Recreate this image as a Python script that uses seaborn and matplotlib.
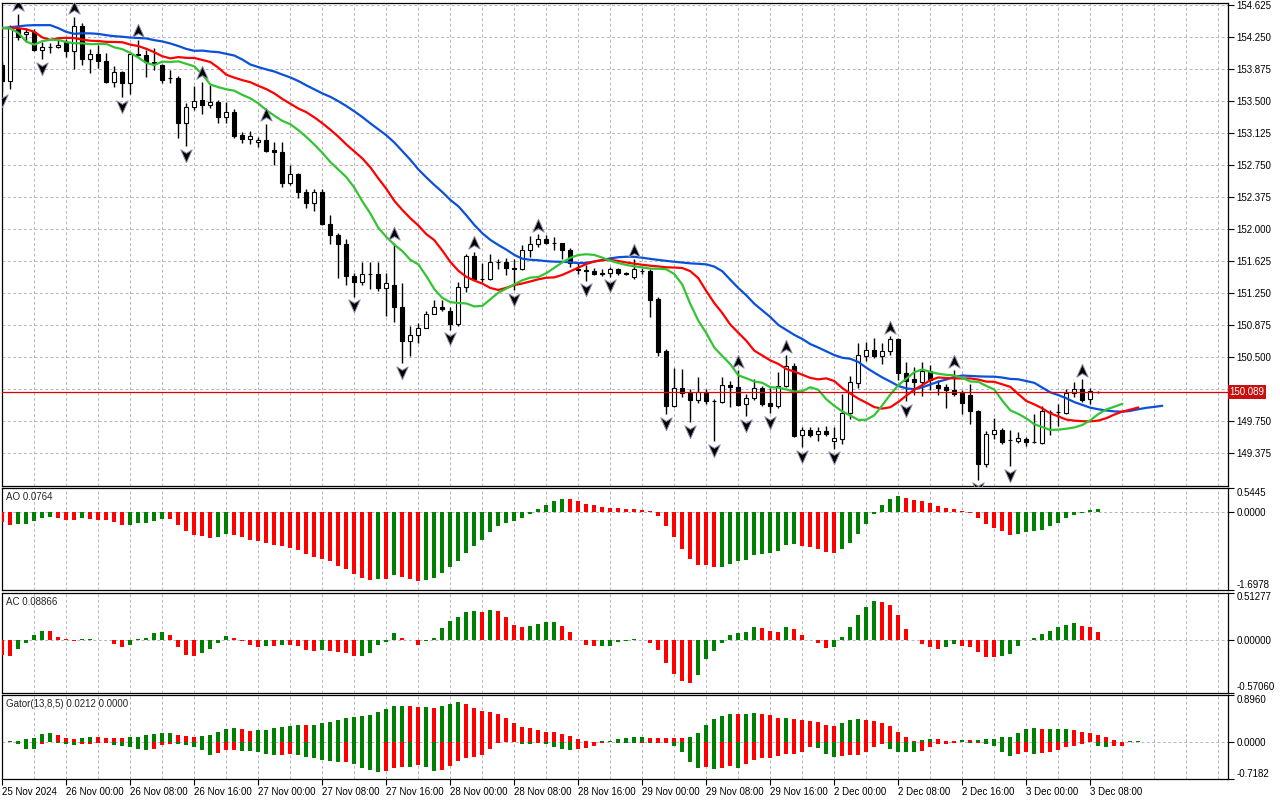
import matplotlib
matplotlib.use("Agg")
import matplotlib.pyplot as plt
from matplotlib.path import Path
import numpy as np
import pandas as pd
import seaborn as sns

# H1 bars, 25 Nov 2024 16:00 .. 3 Dec 2024 09:00
opens = [
    153.922, 153.738, 154.359, 154.282, 154.312, 154.102, 154.130, 154.130, 154.195, 154.090,
    154.379, 153.996, 154.051, 153.973, 153.727, 153.840, 153.708, 154.051, 154.039, 153.961,
    153.922, 153.766, 153.766, 153.239, 153.427, 153.512, 153.450, 153.489, 153.316, 153.368,
    153.102, 153.052, 153.016, 153.043, 152.926, 152.899, 152.543, 152.645, 152.437, 152.302,
    152.437, 152.059, 151.934, 151.821, 151.453, 151.383, 151.473, 151.473, 151.312, 151.344,
    151.090, 150.691, 150.758, 150.848, 151.012, 151.083, 151.043, 150.895, 151.324, 151.684,
    151.411, 151.420, 151.617, 151.619, 151.540, 151.538, 151.754, 151.825, 151.880, 151.840,
    151.836, 151.754, 151.535, 151.526, 151.512, 151.481, 151.481, 151.528, 151.481, 151.442,
    151.512, 151.512, 151.184, 150.574, 149.934, 150.145, 150.082, 149.996, 150.094, 149.988,
    149.977, 150.180, 150.152, 149.958, 150.028, 150.145, 149.965, 149.934, 150.169, 150.399,
    149.586, 149.645, 149.606, 149.637, 149.520, 149.548, 149.848, 150.199, 150.520, 150.591,
    150.520, 150.571, 150.720, 150.316, 150.246, 150.216, 150.340, 150.172, 150.152, 150.122,
    150.082, 150.055, 149.868, 149.255, 149.598, 149.645, 149.528, 149.520, 149.548, 149.508,
    149.496, 149.856, 149.856, 149.848, 150.087, 150.133, 150.016, 150.094,
]
highs = [
    153.957, 154.391, 154.520, 154.352, 154.344, 154.184, 154.177, 154.223, 154.227, 154.488,
    154.411, 154.110, 154.157, 154.059, 153.911, 153.852, 154.063, 154.215, 154.098, 154.118,
    153.934, 153.864, 153.793, 153.480, 153.676, 153.727, 153.688, 153.512, 153.492, 153.403,
    153.137, 153.145, 153.082, 153.231, 153.020, 153.023, 152.750, 152.660, 152.466, 152.466,
    152.466, 152.164, 151.957, 151.880, 151.488, 151.614, 151.614, 151.614, 151.481, 151.840,
    151.371, 150.864, 150.902, 151.043, 151.176, 151.176, 151.090, 151.383, 151.707, 151.734,
    151.605, 151.707, 151.652, 151.657, 151.645, 151.813, 151.918, 151.938, 151.934, 151.903,
    151.840, 151.774, 151.605, 151.578, 151.540, 151.528, 151.559, 151.547, 151.500, 151.645,
    151.540, 151.528, 151.200, 150.602, 150.380, 150.368, 150.133, 150.270, 150.133, 150.012,
    150.270, 150.220, 150.350, 150.075, 150.251, 150.161, 150.145, 150.328, 150.524, 150.434,
    149.684, 149.684, 149.684, 149.692, 149.684, 150.067, 150.278, 150.668, 150.680, 150.731,
    150.668, 150.746, 150.731, 150.445, 150.387, 150.442, 150.407, 150.231, 150.192, 150.348,
    150.114, 150.192, 149.879, 149.637, 149.794, 149.676, 149.645, 149.625, 149.567, 149.840,
    149.926, 149.887, 149.950, 150.133, 150.210, 150.245, 150.145, 150.106,
]
lows = [
    153.606, 153.641, 154.215, 154.195, 154.086, 153.989, 154.059, 154.125, 154.020, 153.872,
    153.922, 153.825, 153.884, 153.715, 153.661, 153.544, 153.582, 154.022, 153.785, 153.864,
    153.708, 153.708, 153.063, 152.973, 153.395, 153.348, 153.415, 153.246, 153.246, 153.070,
    153.012, 152.996, 152.965, 152.906, 152.750, 152.496, 152.516, 152.360, 152.243, 152.215,
    152.047, 151.825, 151.423, 151.344, 151.207, 151.344, 151.294, 151.277, 150.981, 150.914,
    150.434, 150.512, 150.668, 150.848, 151.012, 151.043, 150.825, 150.864, 151.266, 151.403,
    151.383, 151.403, 151.528, 151.461, 151.286, 151.520, 151.676, 151.786, 151.825, 151.754,
    151.645, 151.559, 151.473, 151.394, 151.458, 151.450, 151.442, 151.458, 151.461, 151.418,
    151.473, 150.973, 150.512, 149.832, 149.918, 150.035, 149.742, 149.965, 149.949, 149.520,
    149.965, 149.918, 149.926, 149.809, 149.996, 149.926, 149.848, 149.911, 150.152, 149.567,
    149.449, 149.567, 149.520, 149.575, 149.430, 149.489, 149.782, 150.145, 150.457, 150.497,
    150.426, 150.524, 150.239, 149.988, 150.055, 150.043, 150.114, 150.055, 149.911, 150.043,
    149.832, 149.715, 149.067, 149.215, 149.548, 149.481, 149.223, 149.496, 149.457, 149.496,
    149.489, 149.590, 149.692, 149.841, 150.035, 149.977, 149.949, 150.082,
]
closes = [
    153.735, 154.371, 154.250, 154.309, 154.098, 154.130, 154.133, 154.157, 154.090, 154.379,
    153.996, 154.051, 153.973, 153.727, 153.840, 153.708, 154.051, 154.036, 153.961, 153.930,
    153.746, 153.764, 153.239, 153.427, 153.500, 153.454, 153.489, 153.316, 153.368, 153.090,
    153.052, 153.087, 153.043, 152.918, 152.899, 152.543, 152.645, 152.437, 152.302, 152.437,
    152.059, 151.934, 151.821, 151.453, 151.383, 151.473, 151.473, 151.312, 151.364, 151.090,
    150.691, 150.758, 150.848, 151.012, 151.083, 151.066, 150.895, 151.324, 151.684, 151.411,
    151.420, 151.617, 151.619, 151.540, 151.538, 151.754, 151.825, 151.880, 151.840, 151.842,
    151.754, 151.605, 151.526, 151.512, 151.473, 151.479, 151.528, 151.481, 151.479, 151.528,
    151.510, 151.176, 150.563, 149.934, 150.145, 150.082, 149.996, 150.094, 149.988, 149.986,
    150.180, 150.152, 149.938, 150.028, 150.145, 149.958, 149.934, 150.169, 150.399, 149.575,
    149.645, 149.586, 149.637, 149.606, 149.555, 149.848, 150.207, 150.524, 150.591, 150.520,
    150.571, 150.720, 150.316, 150.223, 150.216, 150.340, 150.231, 150.145, 150.122, 150.075,
    149.965, 149.868, 149.255, 149.598, 149.645, 149.508, 149.534, 149.559, 149.508, 149.510,
    149.868, 149.858, 149.858, 150.082, 150.133, 150.004, 150.106, 150.089,
]

# Awesome Oscillator
ao = [
    -0.211, -0.284, -0.263, -0.258, -0.197, -0.131, -0.109, -0.131, -0.168, -0.175,
    -0.131, -0.153, -0.160, -0.168, -0.211, -0.284, -0.277, -0.241, -0.233, -0.190,
    -0.146, -0.150, -0.277, -0.408, -0.496, -0.518, -0.562, -0.540, -0.474, -0.496,
    -0.540, -0.605, -0.627, -0.671, -0.715, -0.737, -0.780, -0.824, -0.912, -0.977,
    -1.021, -1.065, -1.174, -1.240, -1.349, -1.429, -1.480, -1.459, -1.462, -1.371,
    -1.415, -1.459, -1.502, -1.480, -1.437, -1.327, -1.196, -1.065, -0.890, -0.744,
    -0.598, -0.430, -0.306, -0.233, -0.190, -0.131, -0.029, 0.066, 0.153, 0.241,
    0.284, 0.282, 0.241, 0.175, 0.153, 0.109, 0.095, 0.088, 0.084, 0.066,
    0.062, 0.022, -0.080, -0.299, -0.540, -0.795, -1.021, -1.145, -1.160, -1.196,
    -1.189, -1.130, -1.072, -1.043, -0.926, -0.912, -0.897, -0.846, -0.722, -0.700,
    -0.737, -0.766, -0.802, -0.868, -0.890, -0.802, -0.671, -0.474, -0.255, -0.029,
    0.153, 0.284, 0.350, 0.306, 0.277, 0.241, 0.204, 0.131, 0.088, 0.080,
    0.022, -0.004, -0.124, -0.255, -0.343, -0.408, -0.496, -0.474, -0.430, -0.401,
    -0.387, -0.299, -0.233, -0.124, -0.058, -0.015, 0.044, 0.0764,
]

# Accelerator Oscillator
ac = [
    -0.160, -0.170, -0.094, -0.036, 0.047, 0.100, 0.098, 0.036, 0.004, -0.011,
    0.011, 0.012, -0.004, -0.005, -0.043, -0.080, -0.058, 0.004, 0.025, 0.069,
    0.083, 0.047, -0.080, -0.166, -0.180, -0.144, -0.100, -0.030, 0.045, 0.022,
    -0.014, -0.058, -0.080, -0.069, -0.070, -0.054, -0.058, -0.065, -0.112, -0.123,
    -0.112, -0.116, -0.137, -0.144, -0.177, -0.176, -0.140, -0.060, -0.022, 0.069,
    0.025, -0.007, -0.058, -0.014, 0.025, 0.123, 0.202, 0.242, 0.300, 0.307,
    0.300, 0.318, 0.307, 0.242, 0.166, 0.144, 0.146, 0.173, 0.190, 0.192,
    0.155, 0.090, -0.004, -0.058, -0.072, -0.070, -0.065, -0.025, -0.011, 0.004,
    -0.002, -0.036, -0.112, -0.256, -0.375, -0.448, -0.473, -0.383, -0.209, -0.123,
    -0.036, 0.047, 0.079, 0.081, 0.144, 0.123, 0.101, 0.090, 0.134, 0.112,
    0.047, -0.001, -0.029, -0.090, -0.079, 0.036, 0.144, 0.274, 0.361, 0.426,
    0.415, 0.372, 0.264, 0.112, -0.001, -0.047, -0.083, -0.101, -0.079, -0.047,
    -0.069, -0.079, -0.134, -0.188, -0.191, -0.170, -0.155, -0.069, 0.001, 0.025,
    0.058, 0.101, 0.134, 0.166, 0.177, 0.155, 0.134, 0.08866,
]

# Alligator values on the first shifted bars (before the smoothing runs on this data)
jaw_start = [154.352, 154.362, 154.373, 154.383, 154.387, 154.387, 154.387, 154.352]
teeth_start = [154.352, 154.352, 154.352, 154.338, 154.309]
lips_start = [154.356, 154.348, 154.297]

fractal_up = [2, 9, 17, 25, 33, 49, 59, 67, 79, 92, 98, 111, 119, 135]
fractal_down = [0, 5, 15, 23, 44, 50, 56, 64, 73, 76, 83, 86, 89, 93, 96, 100, 104, 113, 122, 126]

time_labels = [
    "25 Nov 2024", "26 Nov 00:00", "26 Nov 08:00", "26 Nov 16:00", "27 Nov 00:00",
    "27 Nov 08:00", "27 Nov 16:00", "28 Nov 00:00", "28 Nov 08:00", "28 Nov 16:00",
    "29 Nov 00:00", "29 Nov 08:00", "29 Nov 16:00", "2 Dec 00:00", "2 Dec 08:00",
    "2 Dec 16:00", "3 Dec 00:00", "3 Dec 08:00",
]
price_ticks = [149.375, 149.750, 150.125, 150.500, 150.875, 151.250, 151.625, 152.000,
               152.375, 152.750, 153.125, 153.500, 153.875, 154.250, 154.625]
last_price = 150.089
ao_range = (-1.6978, 0.5445)
ac_range = (-0.5706, 0.51277)
gator_range = (-0.7182, 0.8960)


def smma(seed, values, period):
    out = []
    s = seed
    for v in values:
        s = (s * (period - 1) + v) / period
        out.append(s)
    return out


n = len(closes)
idx = np.arange(n)
median = [(h + l) / 2 for h, l in zip(highs, lows)]

jaw = np.array(jaw_start + smma(jaw_start[-1], median, 13))
teeth = np.array(teeth_start + smma(teeth_start[-1], median, 8))
lips = np.array(lips_start + smma(lips_start[-1], median, 5))

n_up = min(len(jaw), len(teeth))
n_lo = min(len(teeth), len(lips))
gator_up = np.abs(jaw[:n_up] - teeth[:n_up])
gator_lo = -np.abs(teeth[:n_lo] - lips[:n_lo])

GREEN = "#008000"
RED = "#ff0000"


def rise_colors(vals, use_abs=False):
    vals = np.abs(vals) if use_abs else np.asarray(vals)
    cols = [RED]
    for a, b in zip(vals[:-1], vals[1:]):
        cols.append(GREEN if b > a else RED)
    return cols


sns.set_style("white")
plt.rcParams["font.family"] = ["Liberation Sans", "DejaVu Sans"]
plt.rcParams["axes.unicode_minus"] = False

fig = plt.figure(figsize=(12.8, 8), dpi=100)


def panel(top, bottom):
    return fig.add_axes([2 / 1280, 1 - bottom / 800, 1226 / 1280, (bottom - top) / 800])


ax = panel(2.5, 485.5)
ax_ao = panel(487.5, 590)
ax_ac = panel(592.5, 692.5)
ax_g = panel(695, 779)
axes = [ax, ax_ao, ax_ac, ax_g]

GRID = "#bcb2bc"
xmin, xmax = -0.0375, 153.2125
grid_x = np.arange(0, 153, 4)
for a in axes:
    a.set_xlim(xmin, xmax)
    a.vlines(grid_x, 0, 1, transform=a.get_xaxis_transform(), colors=GRID,
             linestyles=(0, (3, 2.5)), linewidth=0.7, zorder=0)
    for s in a.spines.values():
        s.set_color("black")
        s.set_linewidth(0.9)
    a.yaxis.tick_right()
    a.tick_params(axis="y", direction="out", length=4, width=0.8, labelsize=7, pad=2,
                  colors="black")
    a.set_xticks([])

# --- price panel ---
ax.set_ylim(149.0, 154.652)
for p in price_ticks:
    ax.axhline(p, color=GRID, linestyle=(0, (3, 2.5)), linewidth=0.7, zorder=0)
ax.set_yticks(price_ticks)
tick_text = ax.set_yticklabels([f"{p:.3f}" for p in price_ticks])
# the 150.125 label sits under the current-price box, as in the terminal
for p, t in zip(price_ticks, tick_text):
    if abs(p - last_price) < 0.1:
        t.set_visible(False)

ax.vlines(idx, lows, highs, colors="black", linewidth=1.0, zorder=3)
body_low = np.minimum(opens, closes)
body_h = np.abs(np.array(closes) - np.array(opens))
face = ["white" if c > o else "black" for o, c in zip(opens, closes)]
ax.bar(idx, body_h, bottom=body_low, width=0.5, color=face, edgecolor="black",
       linewidth=0.8, zorder=4)

lines = pd.DataFrame({"x": np.arange(len(jaw)), "y": jaw})
sns.lineplot(data=lines, x="x", y="y", ax=ax, color="#0a50d8", linewidth=1.6, zorder=5)
lines = pd.DataFrame({"x": np.arange(len(teeth)), "y": teeth})
sns.lineplot(data=lines, x="x", y="y", ax=ax, color="#ff0000", linewidth=1.6, zorder=5)
lines = pd.DataFrame({"x": np.arange(len(lips)), "y": lips})
sns.lineplot(data=lines, x="x", y="y", ax=ax, color="#33c433", linewidth=1.6, zorder=5)

up_arrow = Path([(0, 1), (0.8, -0.8), (0, -0.3), (-0.8, -0.8), (0, 1)],
                [Path.MOVETO, Path.LINETO, Path.LINETO, Path.LINETO, Path.CLOSEPOLY])
down_arrow = Path([(0, -1), (0.8, 0.8), (0, 0.3), (-0.8, 0.8), (0, -1)],
                  [Path.MOVETO, Path.LINETO, Path.LINETO, Path.LINETO, Path.CLOSEPOLY])
ax.scatter(fractal_up, [highs[i] + 0.1 for i in fractal_up], marker=up_arrow, s=105,
           color="black", edgecolor="#8a8aa8", linewidth=0.7, zorder=6)
ax.scatter(fractal_down, [lows[i] - 0.1 for i in fractal_down], marker=down_arrow, s=105,
           color="black", edgecolor="#8a8aa8", linewidth=0.7, zorder=6)

ax.axhline(last_price, color="#e00000", linewidth=0.9, zorder=5)
ax.text(1.0 + 1.5 / 1226, last_price, f"{last_price:.3f}", transform=ax.get_yaxis_transform(),
        ha="left", va="center", fontsize=7, color="white", zorder=10, clip_on=False,
        bbox=dict(boxstyle="square,pad=0.2", facecolor="#c81010", edgecolor="none"))
ax.set_xlabel("")
ax.set_ylabel("")


# --- oscillator panels ---
def osc_axis(a, lo, hi, labels, title, ypos):
    a.set_ylim(lo, hi)
    a.axhline(0, color=GRID, linestyle=(0, (3, 2.5)), linewidth=0.7, zorder=0)
    a.set_yticks([lo, 0, hi])
    tl = a.set_yticklabels(labels)
    tl[0].set_va("bottom")
    tl[2].set_va("top")
    a.text(4 / 1226, ypos, title, transform=a.transAxes, ha="left", va="center", fontsize=7)


osc_axis(ax_ao, ao_range[0], ao_range[1], ["-1.6978", "0.0000", "0.5445"], "AO 0.0764", 0.91)
ax_ao.bar(idx, ao, width=0.5, color=rise_colors(ao), linewidth=0, zorder=3)

osc_axis(ax_ac, ac_range[0], ac_range[1], ["-0.57060", "0.00000", "0.51277"], "AC 0.08866", 0.905)
ax_ac.bar(idx, ac, width=0.5, color=rise_colors(ac), linewidth=0, zorder=3)

osc_axis(ax_g, gator_range[0], gator_range[1], ["-0.7182", "0.0000", "0.8960"],
         "Gator(13,8,5) 0.0212 0.0000", 0.89)
ax_g.bar(np.arange(n_up), gator_up, width=0.5, color=rise_colors(gator_up), linewidth=0, zorder=3)
ax_g.bar(np.arange(n_lo), gator_lo, width=0.5, color=rise_colors(gator_lo, use_abs=True),
         linewidth=0, zorder=3)

ax_g.set_xticks(np.arange(0, n, 8))
ax_g.set_xticklabels(time_labels)
ax_g.tick_params(axis="x", direction="out", length=4, width=0.8, labelsize=7, pad=1.5,
                 colors="black", bottom=True)
for lbl in ax_g.get_xticklabels():
    lbl.set_ha("left")

fig.savefig("out.png", dpi=100, facecolor="white")
